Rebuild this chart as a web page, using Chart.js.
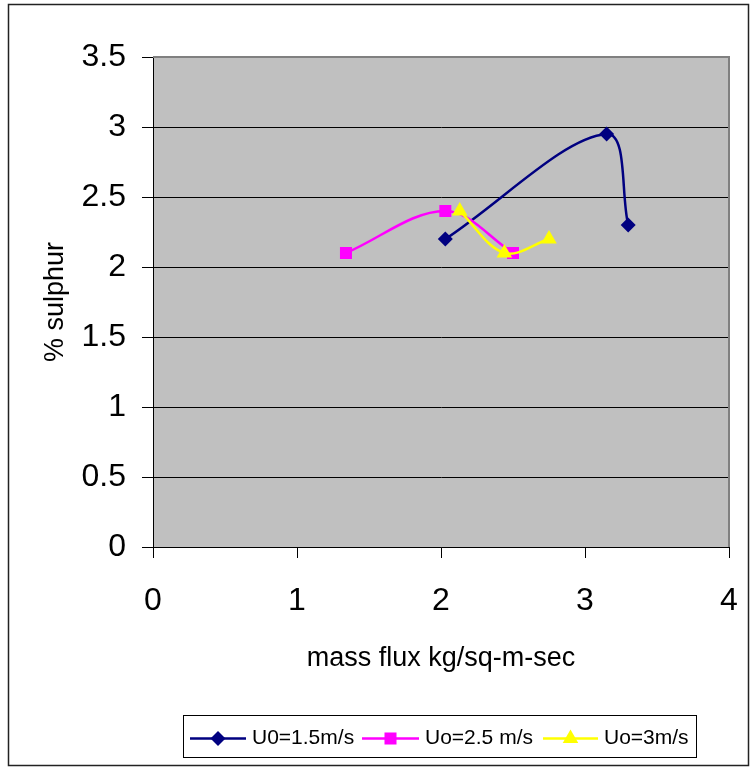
<!DOCTYPE html>
<html>
<head>
<meta charset="utf-8">
<script src="https://cdn.jsdelivr.net/npm/chart.js@4/dist/chart.umd.min.js"></script>
<style>
  html, body { margin: 0; padding: 0; background: #ffffff; }
  #wrap { width: 753px; height: 769px; position: relative; }
</style>
</head>
<body>
<div id="wrap"><canvas id="c" width="753" height="769"></canvas></div>
<script>
// Sulphur content against mass flux, for three superficial velocities
const seriesNames = ['U0=1.5m/s', 'Uo=2.5 m/s', 'Uo=3m/s'];

const massFlux15 = [2.03, 3.15, 3.3];
const sulphur15  = [2.2, 2.95, 2.3];

const massFlux25 = [1.34, 2.03, 2.5];
const sulphur25  = [2.1, 2.4, 2.1];

const massFlux30 = [2.13, 2.44, 2.75];
const sulphur30  = [2.4, 2.1, 2.2];

const xTicks = [0, 1, 2, 3, 4];
const yTicks = [0, 0.5, 1, 1.5, 2, 2.5, 3, 3.5];

const FONT = '"Liberation Sans", Arial, sans-serif';

function pairs(xs, ys) {
  return xs.map((x, i) => ({ x: x, y: ys[i] }));
}

const styles = [
  { color: '#000080', pointStyle: 'rectRot', radius: 7.5 },
  { color: '#FF00FF', pointStyle: 'rect', radius: 8.5 },
  { color: '#FFFF00', pointStyle: 'triangle', radius: 9 }
];

const seriesData = [
  pairs(massFlux15, sulphur15),
  pairs(massFlux25, sulphur25),
  pairs(massFlux30, sulphur30)
];

const datasets = seriesData.map((d, i) => ({
  label: seriesNames[i],
  data: d,
  showLine: true,
  tension: 0.35,
  borderColor: styles[i].color,
  backgroundColor: styles[i].color,
  borderWidth: 2.5,
  pointStyle: styles[i].pointStyle,
  pointRadius: styles[i].radius,
  pointHoverRadius: styles[i].radius,
  pointBorderWidth: 0,
  pointBackgroundColor: styles[i].color,
  order: 3 - i
}));

// Grey plot background, frame and the outer chart border
const frame = {
  id: 'frame',
  beforeDraw(chart) {
    const { ctx, chartArea: a } = chart;
    ctx.save();
    ctx.fillStyle = '#C0C0C0';
    ctx.fillRect(a.left, a.top, a.right - a.left, a.bottom - a.top);
    ctx.restore();
  },
  afterDraw(chart) {
    const { ctx, chartArea: a } = chart;
    ctx.save();
    // plot frame: top and right edges in grey
    ctx.strokeStyle = '#808080';
    ctx.lineWidth = 2;
    ctx.beginPath();
    ctx.moveTo(a.left, a.top);
    ctx.lineTo(a.right, a.top);
    ctx.lineTo(a.right, a.bottom);
    ctx.stroke();
    // outer border of the whole chart
    ctx.strokeStyle = '#222222';
    ctx.lineWidth = 1.5;
    ctx.strokeRect(8.5, 4.5, 740, 761);
    ctx.restore();
  }
};

// Boxed legend below the axis title: line sample, marker, text
const legendBox = {
  id: 'legendBox',
  afterDraw(chart) {
    const { ctx } = chart;
    const box = { x: 183.5, y: 715.5, w: 513, h: 42 };
    const cy = box.y + 23;
    const items = [
      { x1: 190, x2: 246, tx: 252 },
      { x1: 362, x2: 419, tx: 425 },
      { x1: 543, x2: 598, tx: 604 }
    ];
    ctx.save();
    ctx.fillStyle = '#ffffff';
    ctx.fillRect(box.x, box.y, box.w, box.h);
    ctx.strokeStyle = '#000000';
    ctx.lineWidth = 1;
    ctx.strokeRect(box.x, box.y, box.w, box.h);
    chart.data.datasets.forEach((ds, i) => {
      const it = items[i];
      ctx.strokeStyle = ds.borderColor;
      ctx.lineWidth = 2.5;
      ctx.beginPath();
      ctx.moveTo(it.x1, cy);
      ctx.lineTo(it.x2, cy);
      ctx.stroke();
      ctx.fillStyle = ds.backgroundColor;
      Chart.helpers.drawPoint(ctx, {
        pointStyle: ds.pointStyle,
        radius: ds.pointRadius,
        borderWidth: 0,
        rotation: 0
      }, (it.x1 + it.x2) / 2, cy);
      ctx.fillStyle = '#000000';
      ctx.font = '21px ' + FONT;
      ctx.textAlign = 'left';
      ctx.textBaseline = 'middle';
      ctx.fillText(ds.label, it.tx, cy);
    });
    ctx.restore();
  }
};

new Chart(document.getElementById('c'), {
  type: 'scatter',
  data: { datasets: datasets },
  plugins: [frame, legendBox],
  options: {
    responsive: false,
    animation: false,
    events: [],
    layout: { padding: { left: 8, top: 57, right: 24, bottom: 92 } },
    plugins: {
      legend: { display: false },
      tooltip: { enabled: false }
    },
    scales: {
      x: {
        type: 'linear',
        min: 0, max: 4,
        afterFit(s) {
          s.height = 130;
          s.paddingLeft = 0;
          s.paddingRight = 0;
        },
        afterBuildTicks(s) { s.ticks = xTicks.map(v => ({ value: v })); },
        ticks: {
          color: '#000000',
          padding: 24,
          maxRotation: 0,
          callback: v => String(v),
          font: { family: FONT, size: 32 }
        },
        grid: {
          drawOnChartArea: false,
          drawTicks: true,
          tickLength: 11,
          color: '#000000',
          lineWidth: 1
        },
        border: { display: true, color: '#000000', width: 1 },
        title: {
          display: true,
          text: 'mass flux kg/sq-m-sec',
          color: '#000000',
          font: { family: FONT, size: 27 },
          padding: { top: 0, bottom: 2 }
        }
      },
      y: {
        type: 'linear',
        min: 0, max: 3.5,
        afterFit(s) {
          s.width = 145;
          s.paddingTop = 0;
          s.paddingBottom = 0;
        },
        afterBuildTicks(s) { s.ticks = yTicks.map(v => ({ value: v })); },
        ticks: {
          color: '#000000',
          padding: 16,
          callback: v => String(v),
          font: { family: FONT, size: 32 }
        },
        grid: {
          drawOnChartArea: true,
          drawTicks: true,
          tickLength: 11,
          color: '#000000',
          lineWidth: 1
        },
        border: { display: true, color: '#000000', width: 1 },
        title: {
          display: true,
          text: '% sulphur',
          color: '#000000',
          font: { family: FONT, size: 27 },
          padding: { top: 31, bottom: 0 }
        }
      }
    }
  }
});
</script>
</body>
</html>
